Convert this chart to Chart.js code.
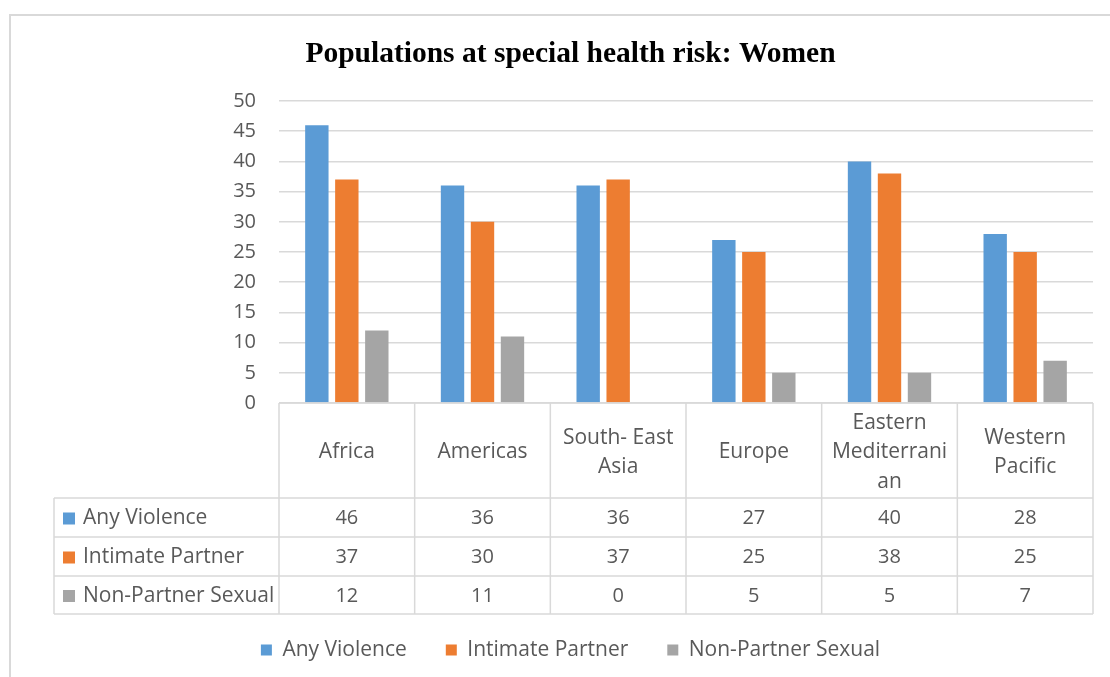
<!DOCTYPE html>
<html>
<head>
<meta charset="utf-8">
<script src="https://cdn.jsdelivr.net/npm/chart.js@4.4.1/dist/chart.umd.min.js"></script>
<style>
  body { margin: 0; background: #fff; }
  #wrap { position: relative; width: 1110px; height: 677px; overflow: hidden; }
  #frame { position: absolute; left: 9px; top: 14px; width: 1200px; height: 800px; border: 2px solid #d9d9d9; }
  #grafica { position: absolute; left: 0; top: 0; }
</style>
</head>
<body>
<div id="wrap">
  <div id="frame"></div>
  <canvas id="grafica" width="1110" height="677"></canvas>
</div>
<script>
// categorias (lineas del encabezado de la tabla)
var regiones = [
  ['Africa'],
  ['Americas'],
  ['South- East', 'Asia'],
  ['Europe'],
  ['Eastern', 'Mediterrani', 'an'],
  ['Western', 'Pacific']
];
var series = ['Any Violence', 'Intimate Partner', 'Non-Partner Sexual'];
var any_violence = [46, 36, 36, 27, 40, 28];
var intimate_partner = [37, 30, 37, 25, 38, 25];
var non_partner_sexual = [12, 11, 0, 5, 5, 7];
var ticks_y = [0, 5, 10, 15, 20, 25, 30, 35, 40, 45, 50];

var colores = ['#5B9BD5', '#ED7D31', '#A5A5A5'];
var gris_texto = '#595959';
var gris_linea = '#d9d9d9';
var fuente = '"Open Sans", "DejaVu Sans", sans-serif';

// dibuja la tabla de datos debajo del eje x
var tablaDatos = {
  id: 'tablaDatos',
  afterDraw: function(chart) {
    var c = chart.ctx;
    var x = chart.scales.x;
    var area = chart.chartArea;
    var n = chart.data.labels.length;
    var w = (x.right - x.left) / n;
    var top = area.bottom;
    var alturas = [95, 39, 39, 38];
    var filas = [top];
    for (var i = 0; i < alturas.length; i++) filas.push(filas[i] + alturas[i]);
    var izq = 54;

    c.save();
    c.strokeStyle = gris_linea;
    c.lineWidth = 1.5;
    c.beginPath();
    // lineas horizontales
    c.moveTo(x.left, filas[0]); c.lineTo(x.right, filas[0]);
    for (var r = 1; r < filas.length; r++) {
      c.moveTo(izq, filas[r]); c.lineTo(x.right, filas[r]);
    }
    // lineas verticales
    for (var k = 0; k <= n; k++) {
      var xx = x.left + k * w;
      c.moveTo(xx, filas[0]); c.lineTo(xx, filas[4]);
    }
    c.moveTo(izq, filas[1]); c.lineTo(izq, filas[4]);
    c.stroke();

    c.fillStyle = gris_texto;
    c.font = '21px ' + fuente;
    c.textAlign = 'center';
    c.textBaseline = 'middle';
    // encabezados
    chart.data.labels.forEach(function(lineas, i) {
      var cx = x.getPixelForValue(i);
      var cy = (filas[0] + filas[1]) / 2 + 2;
      var lh = 29.5;
      lineas.forEach(function(t, j) {
        c.fillText(t, cx, cy + (j - (lineas.length - 1) / 2) * lh);
      });
    });
    // valores
    chart.data.datasets.forEach(function(ds, r) {
      var cy = (filas[r + 1] + filas[r + 2]) / 2 + 1;
      c.font = '20px ' + fuente;
      ds.data.forEach(function(v, i) {
        c.fillText(String(v), x.getPixelForValue(i), cy);
      });
      c.fillStyle = ds.backgroundColor;
      c.fillRect(63, cy - 6, 12, 12);
      c.fillStyle = gris_texto;
      c.textAlign = 'left';
      c.font = '21px ' + fuente;
      c.fillText(ds.label, 83, cy);
      c.textAlign = 'center';
    });
    c.restore();
  }
};

var ctx = document.getElementById('grafica').getContext('2d');
var chart = new Chart(ctx, {
  type: 'bar',
  data: {
    labels: regiones,
    datasets: [
      { label: series[0], data: any_violence, backgroundColor: colores[0] },
      { label: series[1], data: intimate_partner, backgroundColor: colores[1] },
      { label: series[2], data: non_partner_sexual, backgroundColor: colores[2] }
    ]
  },
  options: {
    responsive: false,
    devicePixelRatio: 1,
    animation: false,
    categoryPercentage: 0.663,
    barPercentage: 0.78,
    layout: { padding: { top: 37, left: 48, right: 17, bottom: 6.5 } },
    plugins: {
      title: {
        display: true,
        text: 'Populations at special health risk: Women',
        color: '#000',
        font: { family: '"Liberation Serif", "Times New Roman", serif', size: 29.5, weight: 'bold' },
        padding: { top: 0, bottom: 28.6 }
      },
      legend: {
        position: 'bottom',
        labels: {
          boxWidth: 11,
          boxHeight: 11,
          padding: 39,
          color: gris_texto,
          font: { family: fuente, size: 21 }
        }
      },
      tooltip: { enabled: false }
    },
    scales: {
      x: {
        ticks: { display: false },
        grid: { display: false },
        border: { display: false },
        afterFit: function(scale) { scale.height = 197.5; }
      },
      y: {
        min: 0,
        max: 50,
        afterBuildTicks: function(scale) {
          scale.ticks = ticks_y.map(function(v) { return { value: v }; });
        },
        ticks: { color: gris_texto, padding: 23, font: { family: fuente, size: 20 } },
        grid: { color: gris_linea, lineWidth: 1.5, drawTicks: false },
        border: { display: false },
        afterFit: function(scale) { scale.width = 231; }
      }
    }
  },
  plugins: [tablaDatos]
});
</script>
</body>
</html>
